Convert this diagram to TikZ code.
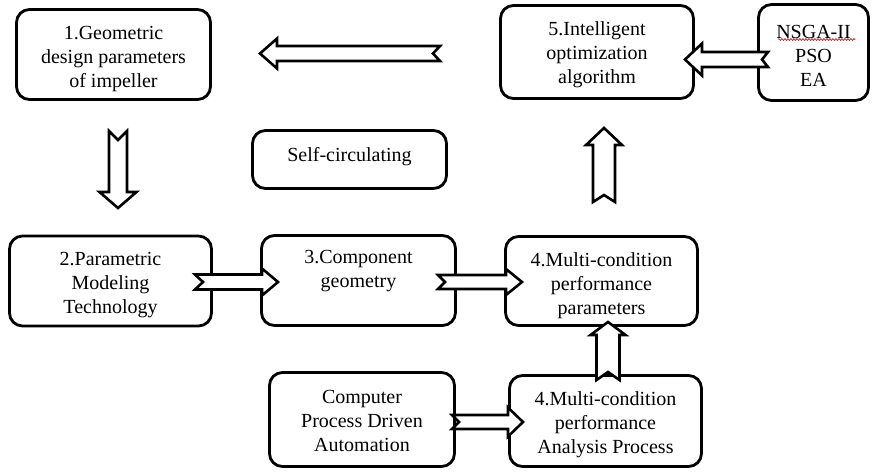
\documentclass[tikz,border=0pt]{standalone}
\usepackage{fontspec}
\setmainfont{Liberation Serif}
\usetikzlibrary{decorations.pathmorphing}
\tikzset{
  box/.style={draw, line width=2.8pt, rounded corners=13pt, inner sep=0pt, fill=white},
  txt/.style={align=center, font=\fontsize{20}{24}\selectfont, inner sep=0pt},
  blk/.style={draw, line width=2.6pt, fill=white, line join=miter},
  spell/.style={draw=red!75!black, line width=0.6pt, decorate,
    decoration={snake, amplitude=0.9pt, segment length=3pt}},
}
% tail x, tail y, angle, length, shaft half-width, head half-width, head length, notch depth
\newcommand{\blockarr}[8]{%
  \begin{scope}[shift={(#1,#2)}, rotate=#3]
    \draw[blk] (0,#5) -- ({#4-#7},#5) -- ({#4-#7},#6) -- (#4,0)
      -- ({#4-#7},-#6) -- ({#4-#7},-#5) -- (0,-#5) -- (#8,0) -- cycle;
  \end{scope}}
\begin{document}
\begin{tikzpicture}[x=1pt,y=-1pt]
\useasboundingbox (0,0) rectangle (872,472);
\fill[white] (0,0) rectangle (872,472);

\node[box, minimum width=194pt, minimum height=90pt] (b1) at (113.5,54.5) {};
\node[txt] (b1t) at ([yshift=-5pt]b1.center) {1.Geometric\\design parameters\\of impeller};
\node[box, minimum width=193pt, minimum height=93pt] (b5) at (597,52) {};
\node[txt] (b5t) at ([yshift=-3pt]b5.center) {5.Intelligent\\optimization\\algorithm};
\node[box, minimum width=110pt, minimum height=96pt] (alg) at (813.5,52.5) {};
\node[txt] (algt) at ([yshift=-3pt]alg.center) {NSGA-II\\PSO\\EA};
\node[box, minimum width=194pt, minimum height=58pt] (self) at (349.5,159.5) {};
\node[txt] (selft) at ([yshift=3pt]self.center) {Self-circulating};
\node[box, minimum width=202pt, minimum height=90pt] (b2) at (110.5,281) {};
\node[txt] (b2t) at ([yshift=-4pt]b2.center) {2.Parametric\\Modeling\\Technology};
\node[box, minimum width=194pt, minimum height=90pt] (b3) at (358.5,280.5) {};
\node[txt] (b3t) at ([yshift=9pt]b3.center) {3.Component\\geometry};
\node[box, minimum width=192pt, minimum height=89pt] (b4a) at (601.5,281) {};
\node[txt] (b4at) at ([yshift=-5pt]b4a.center) {4.Multi-condition\\performance\\parameters};
\node[box, minimum width=185pt, minimum height=94pt] (cp) at (362,419.5) {};
\node[txt] (cpt) at ([yshift=-1pt]cp.center) {Computer\\Process Driven\\Automation};
\node[box, minimum width=192pt, minimum height=91pt] (b4b) at (605.5,421) {};
\node[txt] (b4bt) at ([yshift=-4pt]b4b.center) {4.Multi-condition\\performance\\Analysis Process};

\draw[spell] (778,39.5) -- (855,39.5);

% block arrows
\blockarr{440}{53.5}{180}{180}{7.5}{15}{17}{7}
\blockarr{118}{131}{-90}{77}{9}{18.5}{16}{9}
\blockarr{604}{202}{90}{74}{11}{18}{17}{7}
\blockarr{768}{59.5}{180}{83}{7.5}{16}{17}{6}
\blockarr{195}{282}{0}{83}{7.5}{13.5}{16}{8}
\blockarr{438}{282}{0}{84}{7}{13}{16}{7}
\blockarr{452}{422}{0}{71}{7}{14.5}{15}{7}
\blockarr{608}{380}{90}{58}{11.5}{17.5}{13}{8}
\end{tikzpicture}
\end{document}
